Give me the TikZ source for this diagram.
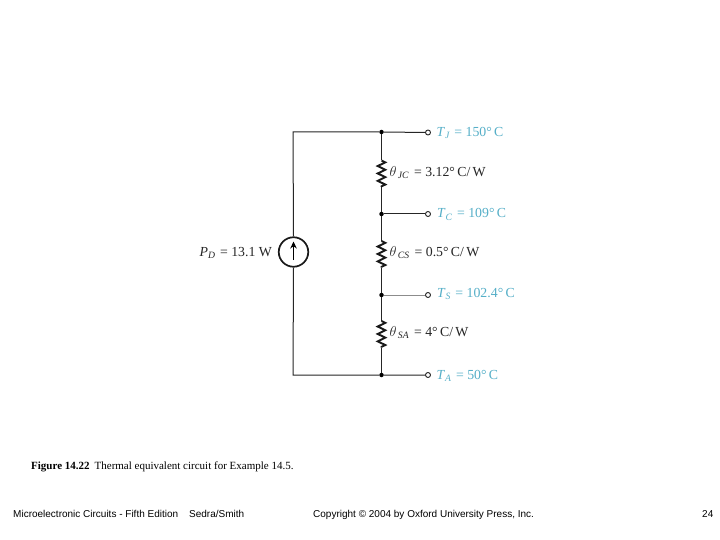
\documentclass[tikz,border=0pt]{standalone}
\usepackage{fontspec}
\setmainfont{Liberation Serif}
\setsansfont{Liberation Sans}
\usetikzlibrary{decorations.pathmorphing,arrows.meta}
\definecolor{tealtxt}{RGB}{85,175,200}
\newcommand{\symb}[2]{\textit{#1}$_{\mathit{#2}}$\hspace{1pt}}
\newcommand{\thet}[1]{$\theta_{\,\mathit{#1}}$\hspace{1.5pt}}
\tikzset{
  wire/.style={draw=black!85,line width=1pt},
  thinwire/.style={draw=black!45,line width=0.8pt},
  resistor/.style={draw=black!90,line width=1.9pt,decorate,decoration={zigzag,segment length=7.4pt,amplitude=3.8pt}},
  junction/.style={circle,fill=black,inner sep=0pt,minimum size=4.5pt},
  terminal/.style={circle,draw=black!85,fill=white,line width=0.9pt,inner sep=0pt,minimum size=5pt},
  source/.style={circle,draw=black!90,line width=1.7pt,fill=none,inner sep=0pt,minimum size=29.5pt},
  templabel/.style={anchor=base west,inner sep=0pt,text=tealtxt,font=\fontsize{13.8}{15}\selectfont},
  vallabel/.style={anchor=base west,inner sep=0pt,text=black!85,font=\fontsize{13.8}{15}\selectfont},
  caption/.style={anchor=base west,inner sep=0pt,font=\fontsize{11}{13}\selectfont},
  footer/.style={anchor=base west,inner sep=0pt,font=\sffamily\fontsize{10}{12}\selectfont}
}
\begin{document}
\begin{tikzpicture}[x=1pt,y=-1pt]
\useasboundingbox[fill=white] (0,0) rectangle (720,540);
% corners and junctions
\coordinate (tl) at (293,132);
\coordinate (bl) at (293,375);
\node[junction] (jJ) at (381.5,132) {};
\node[junction] (jC) at (381.5,214) {};
\node[junction] (jS) at (381.5,295) {};
\node[junction] (jA) at (381.5,375) {};
\node[terminal] (tJ) at (428,132.5) {};
\node[terminal] (tC) at (428,214) {};
\node[terminal] (tS) at (428,295) {};
\node[terminal] (tA) at (428,375) {};
\node[source] (src) at (293.5,252) {};
\coordinate (r1a) at (381.5,160.5);
\coordinate (r1b) at (381.5,187);
\coordinate (r2a) at (381.5,241);
\coordinate (r2b) at (381.5,267.5);
\coordinate (r3a) at (381.5,321);
\coordinate (r3b) at (381.5,347.5);
\coordinate (ar1) at (293.5,260);
\coordinate (ar2) at (293.5,241.5);
% wires
\draw[wire] (src.north) -- (tl) -- (jJ) -- (tJ);
\draw[wire] (src.south) -- (bl) -- (jA) -- (tA);
\draw[wire] (jC) -- (tC);
\draw[thinwire] (jS) -- (tS);
\draw[wire] (jJ) -- (r1a);
\draw[wire] (r1b) -- (jC) -- (r2a);
\draw[wire] (r2b) -- (jS) -- (r3a);
\draw[wire] (r3b) -- (jA);
\draw[resistor] (r1a) -- (r1b);
\draw[resistor] (r2a) -- (r2b);
\draw[resistor] (r3a) -- (r3b);
\draw[line width=0.9pt,-{Stealth[length=7pt,width=6.5pt]}] (ar1) -- (ar2);
% labels
\node[templabel] (lJ) at (436.5,136.5) {\symb{T}{J} = 150°\,C};
\node[vallabel] (l1) at (389.5,176.5) {\thet{JC} = 3.12°\,C/\,W};
\node[templabel] (lC) at (437,218) {\symb{T}{C} = 109°\,C};
\node[vallabel] (l2) at (389.5,256.5) {\thet{CS} = 0.5°\,C/\,W};
\node[templabel] (lS) at (437,297.5) {\symb{T}{S} = 102.4°\,C};
\node[vallabel] (l3) at (389.5,336) {\thet{SA} = 4°\,C/\,W};
\node[templabel] (lA) at (436.5,379) {\symb{T}{A} = 50°\,C};
\node[vallabel] (lP) at (199.5,256.5) {\symb{P}{D} = 13.1 W};
% caption and footer
\node[caption] (cap) at (31,469) {\textbf{Figure 14.22}\hspace{5pt}Thermal equivalent circuit for Example 14.5.};
\node[footer] (f1) at (13,517) {Microelectronic Circuits - Fifth Edition};
\node[footer] (f2) at (189,517) {Sedra/Smith};
\node[footer] (f3) at (313,517) {Copyright © 2004 by Oxford University Press, Inc.};
\node[footer] (f4) at (702,517) {24};
\end{tikzpicture}
\end{document}
